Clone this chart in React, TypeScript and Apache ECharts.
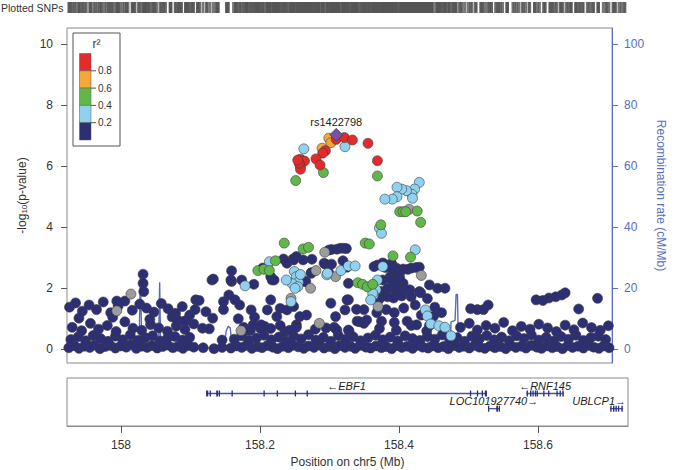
import React, { useEffect, useRef } from 'react';
import * as echarts from 'echarts';

// ---------- data (position in Mb, -log10 p) ----------
const navyBaseline: number[][] = [
  [157.925,.05],[157.933,.12],[157.940,.03],[157.948,.10],[157.956,.06],[157.963,.14],[157.971,.02],[157.979,.09],[157.986,.13],[157.994,.04],
  [158.002,.11],[158.010,.07],[158.017,.15],[158.025,.03],[158.033,.10],[158.041,.06],[158.048,.12],[158.056,.04],[158.064,.09],[158.071,.14],
  [158.079,.05],[158.087,.10],[158.094,.03],[158.102,.12],[158.110,.07],[158.124,.05],[158.140,.02],[158.152,.06],[158.165,.04],[158.173,.11],
  [158.181,.06],[158.188,.13],[158.196,.03],[158.204,.09],[158.211,.05],[158.219,.12],[158.227,.07],[158.234,.02],[158.242,.10],[158.250,.05],
  [158.257,.13],[158.265,.08],[158.273,.03],[158.280,.11],[158.288,.06],[158.296,.14],[158.303,.04],[158.311,.09],[158.319,.02],[158.326,.12],
  [158.334,.06],[158.342,.10],[158.349,.03],[158.357,.13],[158.365,.07],[158.372,.04],[158.380,.11],[158.388,.05],[158.395,.09],[158.403,.02],
  [158.411,.12],[158.418,.06],[158.426,.10],[158.434,.03],[158.441,.13],[158.449,.07],[158.457,.04],[158.464,.11],[158.472,.05],[158.480,.09],
  [158.487,.02],[158.495,.12],[158.503,.06],[158.510,.10],[158.518,.04],[158.526,.13],[158.533,.07],[158.541,.03],[158.549,.11],[158.556,.05],
  [158.564,.09],[158.572,.02],[158.579,.12],[158.587,.06],[158.595,.10],[158.602,.04],[158.610,.13],[158.618,.07],[158.625,.03],[158.633,.11],
  [158.641,.05],[158.648,.09],[158.656,.02],[158.664,.12],[158.671,.06],[158.679,.10],[158.687,.04],[158.694,.13],[158.702,.07],[158.710,.03],
  [158.717,.11],[158.725,.05]
];
const navyLowBand: number[][] = [
  [157.928,.32],[157.939,.41],[157.950,.28],[157.961,.45],[157.972,.35],[157.983,.26],[157.994,.43],[158.005,.31],[158.016,.47],[158.027,.29],
  [158.038,.38],[158.049,.44],[158.060,.27],[158.071,.36],[158.082,.42],[158.093,.30],[158.104,.39],[158.170,.33],[158.181,.44],[158.192,.29],
  [158.203,.37],[158.214,.46],[158.225,.31],[158.236,.40],[158.247,.27],[158.258,.43],[158.269,.34],[158.280,.48],[158.291,.30],[158.302,.39],
  [158.313,.26],[158.324,.45],[158.335,.33],[158.346,.41],[158.357,.28],[158.368,.37],[158.379,.46],[158.390,.31],[158.401,.40],[158.412,.27],
  [158.423,.44],[158.434,.35],[158.445,.29],[158.456,.42],[158.467,.33],[158.478,.47],[158.489,.30],[158.500,.38],[158.511,.26],[158.522,.43],
  [158.533,.34],[158.544,.45],[158.555,.31],[158.566,.40],[158.577,.28],[158.588,.44],[158.599,.35],[158.610,.47],[158.621,.30],[158.632,.39],
  [158.643,.27],[158.654,.42],[158.665,.33],[158.676,.46],[158.687,.29],[158.698,.38],[158.709,.43],[158.720,.32]
];
const navyMidBand: number[][] = [
  [157.930,.72],[157.944,.61],[157.957,.85],[157.969,.66],[157.982,.78],[157.995,.58],[158.008,.90],[158.020,.69],[158.033,.62],[158.046,.81],
  [158.058,.70],[158.071,.59],[158.084,.76],[158.097,.65],[158.110,.83],[158.190,.62],[158.215,.75],[158.245,.58],[158.262,.80],[158.290,.66],
  [158.318,.72],[158.340,.60],[158.362,.85],[158.385,.68],[158.410,.62],[158.432,.78],[158.455,.60],[158.505,.72],[158.518,.85],[158.530,.63],
  [158.543,.78],[158.556,.69],[158.569,.88],[158.582,.61],[158.595,.75],[158.608,.66],[158.621,.82],[158.634,.70],[158.647,.58],[158.660,.79],
  [158.673,.64],[158.686,.86],[158.699,.71],[158.712,.62],[158.724,.77],[158.176,1.0],[158.184,.72],[158.194,.62],[158.209,.68],[158.224,.68],
  [158.238,.78],[158.252,.62],[158.262,.72]
];
const navyUpperLeft: number[][] = [
  [157.926,1.38],[157.935,1.52],[157.945,1.25],[157.955,1.45],[157.966,1.30],[157.976,1.55],[157.987,1.20],[157.998,1.42],[158.008,1.58],[158.019,1.28],
  [158.030,1.48],[158.040,1.35],[158.051,1.22],[158.062,1.50],[158.072,1.33],[158.083,1.18],[158.093,1.40],[158.104,1.12],[158.112,1.30],
  [157.940,1.02],[157.990,1.05],[158.045,.98],[158.078,1.06],[158.100,.95],[158.086,.96],[158.096,.92]
];
const navyScattered: number[][] = [
  [158.035,2.46],[158.035,2.16],[158.036,1.89],[157.996,1.58],[158.113,1.62],[158.118,1.60],[158.137,2.27],[158.166,2.57],[158.166,2.22],
  [158.162,1.78],[158.154,1.56],[158.171,1.62],[158.178,1.45],[158.154,1.30],[158.128,1.23],[158.138,1.02],[158.123,.69],[158.133,.67],
  [158.152,.30],[158.195,1.29],[158.200,1.05],[158.198,.80],[158.210,.80],[158.139,2.30],[158.165,2.27],[158.181,2.27],[158.199,2.13],
  [158.310,3.25],[158.314,3.27],[158.322,3.28],[158.327,3.31],[158.332,3.31],[158.336,3.30],[158.243,2.96],[158.257,2.96],[158.262,3.04],
  [158.212,2.66],[158.226,2.27],[158.224,2.38],[158.272,2.93],[158.285,2.95],[158.284,2.51],[158.276,2.22],[158.305,2.79],[158.314,2.79],
  [158.310,2.51],[158.337,2.69],[158.331,2.90],[158.382,2.76],[158.390,2.83],[158.396,2.76],[158.403,2.81],[158.410,2.66],[158.420,2.63],
  [158.432,2.66],[158.444,2.69],[158.401,2.38],[158.410,2.27],[158.420,2.16],[158.459,2.11],[158.471,2.00],[158.482,2.00],[158.390,2.27],
  [158.408,1.95],[158.419,1.89],[158.430,1.95],[158.444,1.89],[158.313,1.51],[158.339,1.62],[158.320,1.07],[158.351,1.31],[158.356,.90],
  [158.322,.63],[158.339,.63],[158.306,.70],[158.377,2.71],[158.394,2.68],[158.405,2.60],[158.415,2.50],[158.427,2.62],[158.439,2.68],
  [158.403,2.27],[158.415,2.33],[158.387,1.89],[158.397,2.00],[158.409,2.10],[158.385,1.65],[158.397,1.72],[158.406,1.68],[158.418,1.75],
  [158.432,1.72],[158.446,1.85],[158.456,1.66],[158.362,1.30],[158.381,1.20],[158.395,1.30],[158.407,1.20],[158.421,1.35],[158.438,1.45],
  [158.447,1.12],[158.467,1.38],[158.465,1.08],[158.477,1.20],[158.352,.92],[158.366,.96],[158.388,.92],[158.407,.88],[158.426,.92],
  [158.440,.80],[158.459,.78],[158.520,1.33],[158.530,1.30],[158.539,1.30],[158.546,1.45],[158.617,1.62],[158.627,1.60],[158.636,1.68],
  [158.646,1.72],[158.655,1.78],[158.660,1.85],[158.680,1.32],[158.708,1.67],[158.238,1.34],[158.248,1.29],[158.258,1.40],[158.267,1.07],
  [158.277,1.12],[158.337,1.62],[158.334,1.29],[158.339,2.16],[158.219,2.66],[158.229,2.27],[158.248,2.82],[158.258,2.93],[158.274,2.22],
  [158.284,2.49],[158.303,2.82],[158.224,1.62],[158.219,1.29],[158.233,1.07]
];
const greySnps: number[][] = [
  [158.017,1.81],[157.996,1.26],[158.180,.61],[158.304,3.18],[158.291,2.58],[158.283,2.00],[158.320,2.38],[158.429,4.59],
  [158.447,2.42],[158.254,1.67],[158.296,.85],[158.383,1.40]
];
const lightBlueSnps: number[][] = [
  [158.273,6.57],[158.334,6.64],[158.444,5.47],[158.437,5.25],[158.433,5.08],[158.434,4.95],[158.425,5.20],[158.418,5.25],[158.411,5.31],
  [158.411,5.00],[158.404,4.92],[158.393,4.92],[158.385,3.97],[158.388,3.80],[158.438,3.26],[158.222,2.87],[158.186,2.08],[158.259,2.55],
  [158.262,2.38],[158.265,2.20],[158.268,2.45],[158.256,2.15],[158.264,2.05],[158.254,1.56],[158.307,2.44],[158.328,2.58],[158.339,2.73],
  [158.349,2.73],[158.390,2.71],[158.382,2.27],[158.380,1.95],[158.376,1.78],[158.308,2.49],[158.375,1.84],[158.372,1.62],[158.453,1.29],
  [158.456,1.09],[158.461,.83],[158.473,.77],[158.482,.72],[158.491,.44],[158.247,2.27],[158.260,2.00]
];
const greenSnps: number[][] = [
  [158.261,5.53],[158.302,5.79],[158.382,5.68],[158.415,4.51],[158.420,4.51],[158.424,4.51],[158.441,4.53],[158.446,4.16],[158.387,4.08],
  [158.244,3.48],[158.272,3.29],[158.280,3.34],[158.364,3.48],[158.370,3.45],[158.431,3.02],[158.405,3.06],[158.231,2.90],[158.205,2.58],
  [158.214,2.62],[158.222,2.58],[158.353,2.18],[158.360,2.13],[158.367,2.05],[158.375,2.13]
];
const orangeSnps: number[][] = [[158.310,6.92],[158.313,6.77],[158.300,6.59]];
const redSnps: number[][] = [
  [158.321,6.88],[158.333,6.94],[158.345,6.86],[158.368,6.75],[158.382,6.18],[158.305,6.51],[158.301,6.43],[158.291,6.24],
  [158.297,6.04],[158.268,6.23],[158.274,6.17],[158.268,5.99],[158.268,5.90],[158.266,6.10],[158.264,6.20]
];
const leadSnp: number[][] = [[158.321,7.03]];
const leadName = 'rs1422798';

// recombination rate (cM/Mb)
const recombPos = [157.922,157.950,157.980,158.000,158.020,158.029,158.031,158.033,158.045,158.058,158.0595,158.061,158.080,158.100,158.130,
  158.155,158.158,158.161,158.164,158.167,158.190,158.212,158.215,158.222,158.226,158.260,158.300,158.350,158.400,158.447,158.449,158.456,
  158.458,158.490,158.491,158.497,158.4985,158.5005,158.502,158.530,158.570,158.620,158.670,158.729];
const recombRate = [0.6,0.8,0.5,0.7,0.9,1.2,25,1.5,0.8,1.0,22,1.2,0.6,0.5,0.4,
  0.5,6,7.5,7,0.6,0.3,0.4,1.0,1.0,0.4,0.3,0.4,0.3,0.4,0.5,4.5,4.5,
  0.5,0.6,9,9.5,18,18,0.6,0.5,0.4,0.5,0.4,0.5];

// genes
const geneNames = ['EBF1', 'RNF145', 'LOC101927740', 'UBLCP1'];
const geneStart = [158.1225, 158.5835, 158.528, 158.704];
const geneEnd = [158.5265, 158.637, 158.545, 158.722];
const geneRow = [0, 0, 1, 1];
const geneStrand = ['-', '-', '+', '+'];
const geneExons: number[][][] = [
  [[158.1225,158.1255],[158.1275,158.1285],[158.137,158.1395],[158.1405,158.1425],[158.159,158.160],[158.205,158.206],[158.224,158.225],
   [158.250,158.251],[158.267,158.268],[158.502,158.503],[158.512,158.513],[158.519,158.520],[158.5235,158.5265]],
  [[158.5835,158.5855],[158.5885,158.5905],[158.592,158.5935],[158.5955,158.597],[158.598,158.5995],[158.6075,158.6085],[158.6145,158.6155],
   [158.6265,158.628],[158.631,158.6325],[158.635,158.637]],
  [[158.528,158.529],[158.540,158.5425],[158.5435,158.545]],
  [[158.704,158.7055],[158.708,158.710],[158.7115,158.713],[158.715,158.7165],[158.720,158.722]]
];

const xTicks = [158, 158.2, 158.4, 158.6];
const yTicks = [0, 2, 4, 6, 8, 10];
const recombTicks = [0, 20, 40, 60, 80, 100];
const r2Labels = ['0.8', '0.6', '0.4', '0.2'];

// ---------- style ----------
const FONT = 'Liberation Sans, Arial, Helvetica, sans-serif';
const X_MIN = 157.9223;
const X_MAX = 158.7295;
const C = {
  navy: '#2c2f76', lblue: '#8fd1ef', green: '#62b74a', orange: '#f4a83a', red: '#e32b2b', grey: '#9c9c9c', lead: '#7a4fa6',
  recomb: '#5b6db9', frame: '#8a8a8a', text: '#333333'
};
const legendColors = [C.red, C.orange, C.green, C.lblue, C.navy];

function scatter(name: string, data: number[][], color: string, extra: any = {}) {
  return {
    name, type: 'scatter', xAxisIndex: 0, yAxisIndex: 0, data,
    symbol: 'circle', symbolSize: 10,
    itemStyle: { color, borderColor: '#3a3a3a', borderWidth: 0.6, opacity: 1 },
    emphasis: { disabled: true }, z: 3,
    ...extra,
  };
}

function buildOption() {
  const navy = [...navyBaseline, ...navyLowBand, ...navyMidBand, ...navyUpperLeft, ...navyScattered];
  const all = [...navy, ...greySnps, ...lightBlueSnps, ...greenSnps, ...orangeSnps, ...redSnps, ...leadSnp];
  const rug = all.map((p) => [p[0], 0]);

  const legend: any[] = [];
  const lx = 73, ly = 33, lw = 47, lh = 113;
  legend.push({ type: 'rect', shape: { x: lx, y: ly, width: lw, height: lh }, style: { fill: '#fff', stroke: '#555', lineWidth: 1 }, z: 100 });
  legend.push({ type: 'text', x: 96.5, y: 44, style: { text: 'r\u00b2', font: `12px ${FONT}`, fill: C.text, align: 'center', verticalAlign: 'middle' }, z: 101 });
  const segH = 17.3, bx = 79.5, by = 53.5, bw = 11.5;
  legendColors.forEach((c, i) => {
    legend.push({ type: 'rect', shape: { x: bx, y: by + i * segH, width: bw, height: segH }, style: { fill: c, stroke: '#555', lineWidth: 0.5 }, z: 101 });
  });
  r2Labels.forEach((t, i) => {
    const yy = by + (i + 1) * segH;
    legend.push({ type: 'line', shape: { x1: bx + bw, y1: yy, x2: bx + bw + 5, y2: yy }, style: { stroke: '#555', lineWidth: 1 }, z: 101 });
    legend.push({ type: 'text', x: bx + bw + 7, y: yy, style: { text: t, font: `10px ${FONT}`, fill: C.text, align: 'left', verticalAlign: 'middle' }, z: 101 });
  });
  legend.push({ type: 'text', x: 1, y: 8, style: { text: 'Plotted SNPs', font: `10.5px ${FONT}`, fill: C.text, align: 'left', verticalAlign: 'middle' } });

  return {
    animation: false,
    textStyle: { fontFamily: FONT },
    grid: [
      { left: 67, top: 28, width: 561, height: 335, show: true, borderColor: C.frame, borderWidth: 1 },
      { left: 67, top: 378, width: 561, height: 48, show: true, borderColor: C.frame, borderWidth: 1 },
      { left: 67, top: 2, width: 561, height: 11 },
    ],
    xAxis: [
      { gridIndex: 0, type: 'value', min: X_MIN, max: X_MAX, show: false },
      {
        gridIndex: 1, type: 'value', min: X_MIN, max: X_MAX, position: 'bottom',
        axisLine: { show: true, onZero: false, lineStyle: { color: C.frame, width: 1 } },
        axisTick: { show: true, customValues: xTicks, length: 7, lineStyle: { color: '#555', width: 1 } },
        axisLabel: { customValues: xTicks, color: C.text, fontSize: 12, margin: 13 },
        splitLine: { show: false },
        name: 'Position on chr5 (Mb)', nameLocation: 'middle', nameGap: 30,
        nameTextStyle: { color: C.text, fontSize: 12 },
      },
      { gridIndex: 2, type: 'value', min: X_MIN, max: X_MAX, show: false },
    ],
    yAxis: [
      {
        gridIndex: 0, type: 'value', min: -0.45, max: 10.53, position: 'left',
        axisLine: { show: false, onZero: false },
        axisTick: { show: true, customValues: yTicks, length: 6, lineStyle: { color: '#555' } },
        axisLabel: { customValues: yTicks, color: C.text, fontSize: 12, margin: 14 },
        splitLine: { show: false },
        name: '-log{sub|10}(p-value)', nameLocation: 'middle', nameGap: 28,
        nameTextStyle: { color: C.text, fontSize: 12, rich: { sub: { fontSize: 8, verticalAlign: 'bottom', padding: [5, 0, 0, 0], color: C.text } } },
      },
      {
        gridIndex: 0, type: 'value', min: -4.5, max: 105.3, position: 'right',
        axisLine: { show: true, onZero: false, lineStyle: { color: C.recomb, width: 1 } },
        axisTick: { show: true, customValues: recombTicks, length: 6, lineStyle: { color: C.recomb } },
        axisLabel: { customValues: recombTicks, color: C.recomb, fontSize: 12, margin: 12 },
        splitLine: { show: false },
        name: 'Recombination rate (cM/Mb)', nameLocation: 'middle', nameGap: 39, nameRotate: -90,
        nameTextStyle: { color: C.recomb, fontSize: 12 },
      },
      { gridIndex: 1, type: 'value', min: -1.02, max: 2.14, inverse: true, show: false },
      { gridIndex: 2, type: 'value', min: -1, max: 1, show: false },
    ],
    graphic: legend,
    series: [
      {
        name: 'recomb', type: 'line', xAxisIndex: 0, yAxisIndex: 1,
        data: recombPos.map((x, i) => [x, recombRate[i]]),
        showSymbol: false, symbol: 'none', lineStyle: { color: C.recomb, width: 1.4 }, z: 1, emphasis: { disabled: true },
      },
      scatter('navy', navy, C.navy),
      scatter('grey', greySnps, C.grey),
      scatter('lblue', lightBlueSnps, C.lblue),
      scatter('green', greenSnps, C.green),
      scatter('orange', orangeSnps, C.orange),
      scatter('red', redSnps, C.red),
      scatter('lead', leadSnp, C.lead, {
        symbol: 'diamond', symbolSize: 13, z: 4,
        label: { show: true, position: 'top', distance: 0, formatter: leadName, color: '#222', fontSize: 11 },
      }),
      {
        name: 'rug', type: 'scatter', xAxisIndex: 2, yAxisIndex: 3, data: rug,
        symbol: 'rect', symbolSize: [3, 11], itemStyle: { color: '#555555' }, emphasis: { disabled: true },
      },
      {
        name: 'genes', type: 'custom', xAxisIndex: 1, yAxisIndex: 2, clip: false,
        data: geneNames.map((n, i) => [geneStart[i], geneEnd[i], geneRow[i], i]),
        renderItem: (params: any, api: any) => {
          const i = api.value(3);
          const row = api.value(2);
          const p1 = api.coord([api.value(0), row]);
          const p2 = api.coord([api.value(1), row]);
          const children: any[] = [
            { type: 'line', shape: { x1: p1[0], y1: p1[1], x2: p2[0], y2: p2[1] }, style: { stroke: '#4a4f9e', lineWidth: 1.3 } },
          ];
          geneExons[i].forEach((ex) => {
            const a = api.coord([ex[0], row]);
            const b = api.coord([ex[1], row]);
            children.push({ type: 'rect', shape: { x: a[0], y: a[1] - 3, width: Math.max(1.3, b[0] - a[0]), height: 6 }, style: { fill: '#2a2d78' } });
          });
          const label = geneStrand[i] === '-' ? '\u2190' + geneNames[i] : geneNames[i] + '\u2192';
          const cs = params.coordSys;
          const right = cs.x + cs.width;
          let cx = (p1[0] + p2[0]) / 2;
          const w = label.length * 6.2;
          let align = 'center';
          if (cx + w / 2 > right - 2) { cx = right - 2; align = 'right'; }
          children.push({
            type: 'text', x: cx, y: p1[1] - 7.5,
            style: { text: label, fill: '#222', font: `italic 11px ${FONT}`, align, verticalAlign: 'middle' },
          });
          return { type: 'group', children };
        },
      },
    ],
  };
}

export default function App() {
  const ref = useRef<HTMLDivElement>(null);
  useEffect(() => {
    if (!ref.current) return;
    const chart = echarts.init(ref.current, null, { renderer: 'svg' });
    chart.setOption(buildOption() as any);
    return () => chart.dispose();
  }, []);
  return <div ref={ref} style={{ position: 'fixed', left: 0, top: 0, width: 675, height: 470, background: '#fff' }} />;
}
